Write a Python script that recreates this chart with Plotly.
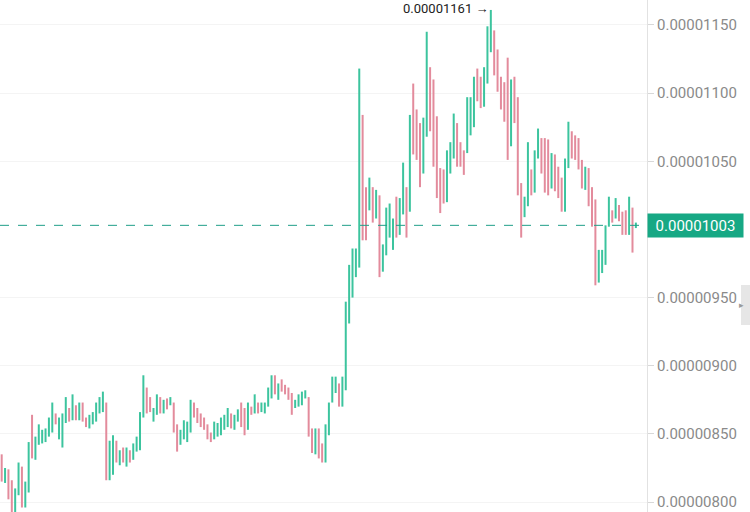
import plotly.graph_objects as go

UNIT = 1e-8

highs = [835, 825, 824, 816, 810, 829, 826, 815, 844, 864,
         848, 857, 853, 854, 862, 873, 865, 862, 865, 877,
         869, 879, 871, 873, 873, 862, 864, 866, 873, 877,
         881, 873, 845, 849, 845, 838, 840, 840, 838, 843,
         848, 866, 893, 884, 877, 869, 879, 877, 875, 876,
         877, 873, 857, 853, 860, 859, 875, 873, 869, 865,
         862, 857, 851, 859, 858, 862, 864, 869, 865, 864,
         868, 873, 869, 873, 870, 879, 873, 873, 873, 884,
         893, 893, 887, 890, 886, 884, 880, 875, 879, 881,
         882, 877, 854, 854, 854, 843, 857, 873, 892, 892,
         887, 892, 947, 974, 986, 986, 1118, 1084, 1031, 1038,
         1031, 1029, 1025, 989, 1016, 1019, 1008, 1024, 1023, 1049,
         1031, 1084, 1107, 1088, 1078, 1082, 1145, 1119, 1110, 1083,
         1045, 1044, 1058, 1064, 1085, 1078, 1064, 1058, 1097, 1097,
         1112, 1118, 1112, 1119, 1149, 1161, 1146, 1132, 1112, 1108,
         1126, 1110, 1112, 1097, 1034, 1024, 1064, 1044, 1058, 1074,
         1067, 1067, 1066, 1056, 1055, 1046, 1038, 1052, 1079, 1072,
         1069, 1067, 1051, 1046, 1045, 1031, 1022, 985, 985, 1003,
         1024, 1014, 1023, 1018, 1013, 1014, 1024, 1016, 1005]

lows = [815, 814, 802, 790, 790, 805, 796, 796, 807, 832,
        831, 842, 843, 844, 848, 851, 857, 846, 840, 858,
        859, 860, 860, 860, 859, 855, 854, 857, 859, 865,
        866, 816, 816, 820, 829, 827, 829, 826, 829, 831,
        837, 838, 862, 865, 866, 859, 864, 865, 865, 868,
        871, 851, 837, 842, 846, 844, 851, 862, 858, 855,
        853, 846, 844, 846, 848, 849, 853, 855, 854, 853,
        859, 855, 849, 853, 864, 865, 865, 866, 865, 870,
        876, 879, 875, 881, 879, 875, 864, 869, 870, 871,
        876, 848, 836, 835, 832, 829, 829, 849, 873, 880,
        870, 870, 882, 931, 950, 965, 972, 992, 992, 1014,
        1005, 1008, 965, 969, 981, 994, 985, 994, 996, 1011,
        994, 1013, 1055, 1051, 1031, 1041, 1068, 1072, 1046, 1023,
        1012, 1019, 1020, 1041, 1052, 1046, 1046, 1040, 1056, 1069,
        1075, 1094, 1089, 1090, 1107, 1130, 1113, 1101, 1088, 1079,
        1051, 1061, 1078, 1025, 994, 1009, 1017, 1025, 1027, 1052,
        1041, 1027, 1025, 1030, 1028, 1023, 1013, 1013, 1045, 1052,
        1051, 1044, 1030, 1029, 1017, 1002, 959, 961, 968, 974,
        1002, 1005, 1008, 1006, 996, 996, 996, 983, 1001]

# u = rising bar (green), d = falling bar (red), ten bars per chunk
dir_chunks = ["dudduuduud", "uuuuuuduuu", "dududduuuu", "uduudududu", "uuudduudud",
              "udduuuuddd", "ddduuuuudu", "uddududuuu", "ududddduuu", "uddudduuuu",
              "duuuuuuddu", "duduuuuduu", "duddduuddd", "dduuuddduu", "udduuudddd",
              "duddduuduu", "ddduddduud", "ddduddduuu", "ududddudu"]
dirs = "".join(dir_chunks)

last_price = 1003
peak_label = "0.00001161"
tick_vals = [800, 850, 900, 950, 1050, 1100, 1150]

n = len(highs)
dirs = dirs[:n].ljust(n, "u")
x = list(range(n))
opens = [lows[i] if dirs[i] == "u" else highs[i] for i in range(n)]
closes = [highs[i] if dirs[i] == "u" else lows[i] for i in range(n)]
closes[-1] = last_price

GREEN = "#3cc49e"
RED = "#e38b9c"

fig = go.Figure()
fig.add_trace(go.Ohlc(
    x=x,
    open=[v * UNIT for v in opens],
    high=[v * UNIT for v in highs],
    low=[v * UNIT for v in lows],
    close=[v * UNIT for v in closes],
    increasing=dict(line=dict(color=GREEN, width=2)),
    decreasing=dict(line=dict(color=RED, width=2)),
    tickwidth=0,
    hoverinfo="skip",
    showlegend=False,
))

peak_idx = highs.index(max(highs))

fig.update_layout(
    width=750, height=512,
    margin=dict(l=0, r=103, t=0, b=0),
    paper_bgcolor="white",
    plot_bgcolor="white",
    font=dict(family="Roboto, Noto Sans, sans-serif", size=15, color="#8a8a8a"),
    xaxis=dict(
        range=[-0.5, 191.3],
        showgrid=False, zeroline=False, showticklabels=False,
        showline=False, ticks="",
        rangeslider=dict(visible=False),
    ),
    yaxis=dict(
        side="right",
        range=[792.7 * UNIT, 1168.3 * UNIT],
        tickvals=[v * UNIT for v in tick_vals],
        tickformat=".8f",
        ticks="outside", ticklen=6, tickcolor="#d8d8d8",
        showline=True, linecolor="#e2e2e2", linewidth=1,
        showgrid=True, gridcolor="#f4f4f4",
        zeroline=False,
        tickfont=dict(size=15, color="#8a8a8a"),
    ),
    shapes=[
        dict(type="line", xref="paper", x0=0, x1=1,
             yref="y", y0=last_price * UNIT, y1=last_price * UNIT,
             line=dict(color="#1f9e88", width=1, dash="dash")),
        dict(type="rect", xref="paper", x0=741 / 647, x1=750 / 647,
             yref="paper", y0=1 - 325 / 512, y1=1 - 285 / 512,
             fillcolor="#e6e6e6", line=dict(width=0), layer="above"),
    ],
    annotations=[
        dict(x=peak_idx, y=max(highs) * UNIT, xref="x", yref="y",
             text=peak_label + " →", showarrow=False,
             xanchor="right", yanchor="middle", xshift=-1, yshift=1,
             font=dict(size=13, color="#222222")),
        dict(x=1, y=last_price * UNIT, xref="paper", yref="y",
             text="0.00001003", showarrow=False,
             xanchor="left", yanchor="middle",
             bgcolor="#17a884", borderpad=3, width=89, height=17,
             font=dict(size=15, color="white")),
        dict(x=745.5 / 647, y=1 - 305 / 512, xref="paper", yref="paper",
             text="▸", showarrow=False, font=dict(size=9, color="#9a9a9a")),
    ],
)

fig.write_html("out.html")
